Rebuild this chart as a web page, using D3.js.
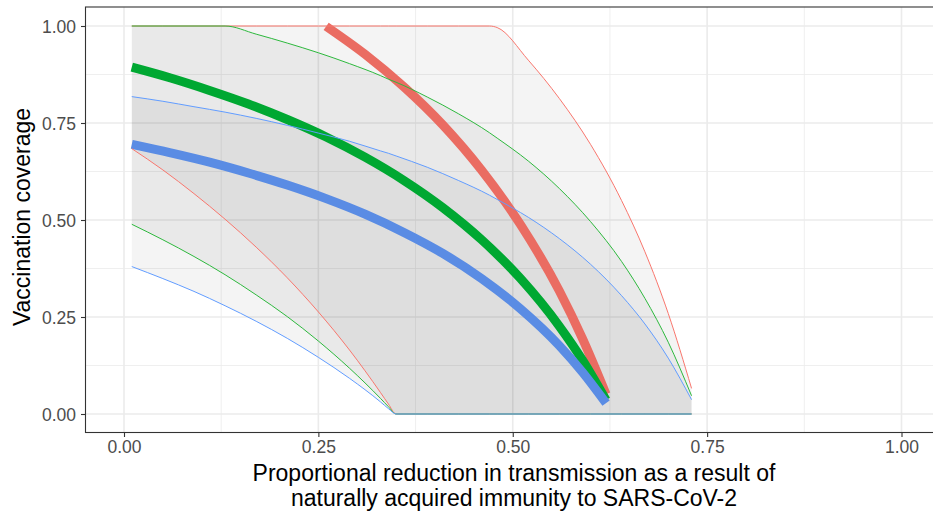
<!DOCTYPE html>
<html>
<head>
<meta charset="utf-8">
<script src="https://cdn.jsdelivr.net/npm/d3@7"></script>
<style>
  body { margin: 0; background: #fff; }
  svg { display: block; font-family: "Liberation Sans", Arial, sans-serif; }
</style>
</head>
<body>
<div id="chart"></div>
<script>
// ---- data ----
var xTicks = [0, 0.25, 0.5, 0.75, 1];
var yTicks = [0, 0.25, 0.5, 0.75, 1];
var tickLabels = ["0.00", "0.25", "0.50", "0.75", "1.00"];

// ribbons (bounds) share one x grid
var xBand = [0.01, 0.05, 0.09, 0.13, 0.17, 0.21, 0.25, 0.29, 0.33, 0.34, 0.35, 0.39, 0.43, 0.47, 0.48, 0.52, 0.56, 0.60, 0.64, 0.67, 0.70, 0.73];
var redUpper   = [1, 1, 1, 1, 1, 1, 1, 1, 1, 1, 1, 1, 1, 1, 0.996, 0.912, 0.813, 0.695, 0.550, 0.418, 0.259, 0.066];
var greenUpper = [1, 1, 1, 1, 0.979, 0.956, 0.931, 0.903, 0.872, 0.863, 0.855, 0.817, 0.774, 0.725, 0.711, 0.652, 0.581, 0.496, 0.393, 0.298, 0.185, 0.047];
var blueUpper  = [0.818, 0.806, 0.792, 0.778, 0.762, 0.744, 0.724, 0.703, 0.678, 0.672, 0.665, 0.636, 0.602, 0.564, 0.553, 0.507, 0.452, 0.386, 0.305, 0.232, 0.144, 0.037];
var redLower   = [0.684, 0.629, 0.568, 0.502, 0.430, 0.351, 0.263, 0.165, 0.055, 0.026, 0, 0, 0, 0, 0, 0, 0, 0, 0, 0, 0, 0];
var greenLower = [0.489, 0.449, 0.406, 0.359, 0.307, 0.251, 0.188, 0.118, 0.040, 0.019, 0, 0, 0, 0, 0, 0, 0, 0, 0, 0, 0, 0];
var blueLower  = [0.380, 0.349, 0.316, 0.279, 0.239, 0.195, 0.146, 0.092, 0.031, 0.014, 0, 0, 0, 0, 0, 0, 0, 0, 0, 0, 0, 0];

// central estimates
var xMid = [0.01, 0.06, 0.11, 0.16, 0.21, 0.26, 0.31, 0.36, 0.41, 0.46, 0.51, 0.56, 0.59, 0.62];
var redMid   = [null, null, null, null, null, 0.999, 0.927, 0.843, 0.745, 0.628, 0.488, 0.317, 0.193, 0.051];
var greenMid = [0.894, 0.866, 0.834, 0.799, 0.759, 0.714, 0.662, 0.602, 0.532, 0.449, 0.349, 0.226, 0.138, 0.036];
var blueMid  = [0.695, 0.673, 0.649, 0.621, 0.590, 0.555, 0.515, 0.468, 0.414, 0.349, 0.271, 0.176, 0.107, 0.028];

var groups = [
  {thin: "#F8766D", thick: "#EA6C62", lo: redLower,   hi: redUpper,   mid: redMid},
  {thin: "#2DB83D", thick: "#00A832", lo: greenLower, hi: greenUpper, mid: greenMid},
  {thin: "#619CFF", thick: "#5A8CE4", lo: blueLower,  hi: blueUpper,  mid: blueMid}
];

(function () {
  'use strict'

  var W = 933, H = 517;
  var panel = {left: 85.5, top: 7, bottom: 432.5, right: 945};

  var x = d3.scaleLinear().domain([0, 1]).range([124, 901.5]);
  var y = d3.scaleLinear().domain([0, 1]).range([414, 26]);

  var svg = d3.select("#chart").append("svg")
    .attr("width", W).attr("height", H);

  svg.append("rect").attr("width", W).attr("height", H).attr("fill", "#fff");

  svg.append("defs").append("clipPath").attr("id", "pc")
    .append("rect")
    .attr("x", panel.left).attr("y", panel.top)
    .attr("width", panel.right - panel.left).attr("height", panel.bottom - panel.top);

  var g = svg.append("g").attr("clip-path", "url(#pc)");

  // grid lines
  var minor = [0.125, 0.375, 0.625, 0.875];
  g.selectAll(".minorV").data(minor).enter().append("line")
    .attr("x1", function(d){ return x(d); }).attr("x2", function(d){ return x(d); })
    .attr("y1", panel.top).attr("y2", panel.bottom)
    .attr("stroke", "#EBEBEB").attr("stroke-width", 0.8);
  g.selectAll(".minorH").data(minor).enter().append("line")
    .attr("y1", function(d){ return y(d); }).attr("y2", function(d){ return y(d); })
    .attr("x1", panel.left).attr("x2", panel.right)
    .attr("stroke", "#EBEBEB").attr("stroke-width", 0.8);
  g.selectAll(".majorV").data(xTicks).enter().append("line")
    .attr("x1", function(d){ return x(d); }).attr("x2", function(d){ return x(d); })
    .attr("y1", panel.top).attr("y2", panel.bottom)
    .attr("stroke", "#EBEBEB").attr("stroke-width", 1.6);
  g.selectAll(".majorH").data(yTicks).enter().append("line")
    .attr("y1", function(d){ return y(d); }).attr("y2", function(d){ return y(d); })
    .attr("x1", panel.left).attr("x2", panel.right)
    .attr("stroke", "#EBEBEB").attr("stroke-width", 1.6);

  // ribbons
  var area = d3.area()
    .x(function(d){ return x(d.x); })
    .y0(function(d){ return y(d.lo); })
    .y1(function(d){ return y(d.hi); })
    .curve(d3.curveMonotoneX);
  groups.forEach(function(grp){
    var rows = xBand.map(function(v, i){ return {x: v, lo: grp.lo[i], hi: grp.hi[i]}; });
    g.append("path").datum(rows)
      .attr("d", area)
      .attr("fill", "#000").attr("fill-opacity", 0.043);
  });

  // thick central lines
  var line = d3.line()
    .defined(function(d){ return d.v != null; })
    .x(function(d){ return x(d.x); })
    .y(function(d){ return y(d.v); })
    .curve(d3.curveMonotoneX);
  groups.forEach(function(grp){
    var rows = xMid.map(function(v, i){ return {x: v, v: grp.mid[i]}; });
    g.append("path").datum(rows)
      .attr("d", line)
      .attr("fill", "none").attr("stroke", grp.thick)
      .attr("stroke-width", 9).attr("stroke-linecap", "butt");
  });

  // thin bound lines
  groups.forEach(function(grp){
    [grp.lo, grp.hi].forEach(function(arr){
      var rows = xBand.map(function(v, i){ return {x: v, v: arr[i]}; });
      g.append("path").datum(rows)
        .attr("d", line)
        .attr("fill", "none").attr("stroke", grp.thin)
        .attr("stroke-width", 1);
    });
  });

  // panel border
  svg.append("rect")
    .attr("x", panel.left).attr("y", panel.top)
    .attr("width", panel.right - panel.left).attr("height", panel.bottom - panel.top)
    .attr("fill", "none").attr("stroke", "#333333").attr("stroke-width", 1.1);

  // axes
  var xAxis = svg.append("g").attr("transform", "translate(0," + panel.bottom + ")")
    .call(d3.axisBottom(x).tickValues(xTicks).tickSize(4.5).tickPadding(4)
      .tickFormat(function(d, i){ return tickLabels[i]; }));
  var yAxis = svg.append("g").attr("transform", "translate(" + panel.left + ",0)")
    .call(d3.axisLeft(y).tickValues(yTicks).tickSize(4.5).tickPadding(5)
      .tickFormat(function(d, i){ return tickLabels[i]; }));
  [xAxis, yAxis].forEach(function(a){
    a.select(".domain").remove();
    a.selectAll(".tick line").attr("stroke", "#333333").attr("stroke-width", 1.1);
    a.selectAll(".tick text").attr("fill", "#4D4D4D")
      .style("font-size", "17.5px").style("font-family", "'Liberation Sans', Arial, sans-serif");
  });
  yAxis.selectAll(".tick text").attr("dy", "0.36em");

  // axis titles
  var xt = svg.append("text")
    .attr("text-anchor", "middle").attr("fill", "#000")
    .style("font-size", "23px");
  xt.append("tspan").attr("x", 514).attr("y", 481).text("Proportional reduction in transmission as a result of");
  xt.append("tspan").attr("x", 514).attr("y", 506).text("naturally acquired immunity to SARS-CoV-2");

  svg.append("text")
    .attr("transform", "translate(30,217) rotate(-90)")
    .attr("text-anchor", "middle").attr("fill", "#000")
    .style("font-size", "23px")
    .text("Vaccination coverage");
})()
</script>
</body>
</html>
